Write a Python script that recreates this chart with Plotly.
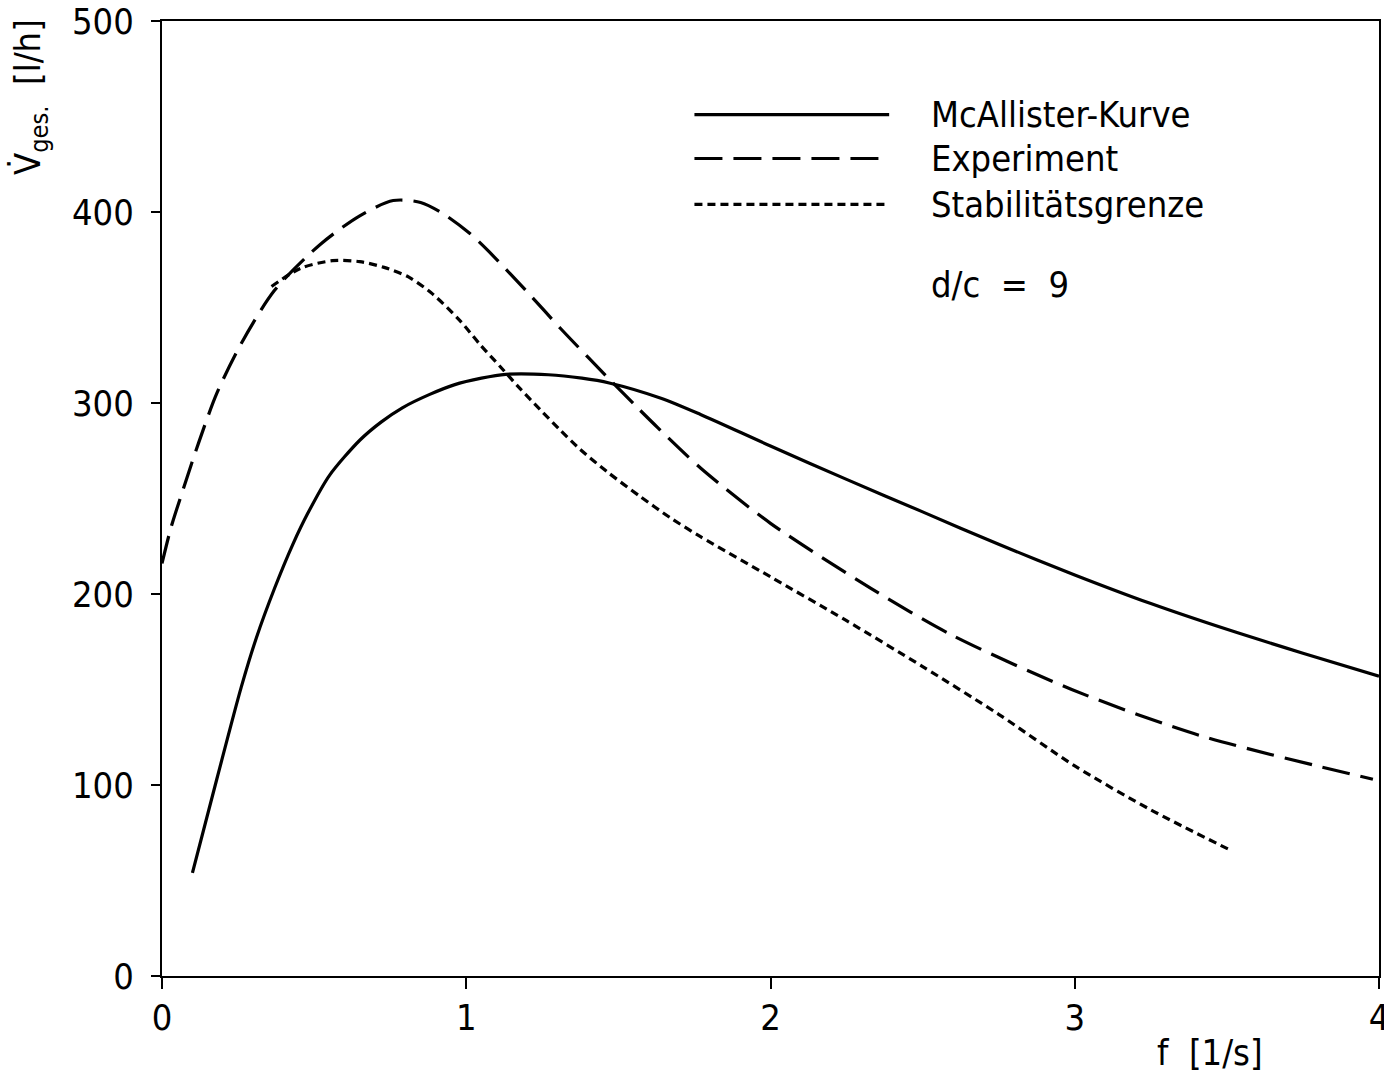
import plotly.graph_objects as go

# --- data ---
mc_x = [0.10, 0.18, 0.26, 0.31, 0.37, 0.43, 0.48, 0.55, 0.65, 0.72, 0.79, 0.88, 0.96, 1.05, 1.13, 1.27, 1.38, 1.47, 1.64, 1.77, 2.00, 2.25, 2.50, 2.75, 3.00, 3.25, 3.50, 3.75, 4.00]
mc_y = [54, 103, 151, 177, 203, 226, 242.5, 262, 280.5, 290, 297.5, 304.5, 309.5, 313, 315, 314.8, 313, 310.5, 302.5, 294, 277.5, 260, 243, 226, 210, 195, 181.5, 169, 157]

ex_x = [0.00, 0.03, 0.07, 0.12, 0.18, 0.26, 0.37, 0.52, 0.65, 0.76, 0.85, 0.92, 1.01, 1.07, 1.21, 1.31, 1.40, 1.47, 1.56, 1.63, 1.77, 2.00, 2.33, 2.59, 2.99, 3.41, 3.98]
ex_y = [216, 235, 255, 279, 305, 331, 359, 383, 398, 406, 405, 399.5, 389, 380, 356.5, 339, 324, 312.5, 298, 287, 266, 237, 203, 179, 150, 126, 103]

st_x = [0.36, 0.455, 0.56, 0.65, 0.73, 0.81, 0.89, 0.98, 1.046, 1.112, 1.177, 1.243, 1.308, 1.374, 1.463, 1.572, 1.67, 1.77, 2.00, 2.25, 2.50, 2.75, 3.00, 3.25, 3.51]
st_y = [361, 370.5, 374.5, 374, 371, 366, 357, 343, 330.5, 319, 307.5, 296.5, 286, 275.8, 264, 251, 240, 230, 209, 186, 162, 137, 110, 87, 66]

series_names = ["McAllister-Kurve", "Experiment", "Stabilitätsgrenze"]
x_ticks = [0, 1, 2, 3, 4]
y_ticks = [0, 100, 200, 300, 400, 500]
note_text = "d/c  =  9"
x_title = "f  [1/s]"
y_title = "V\u0307<sub>ges.</sub>  [l/h]"

FONT = "Liberation Sans Narrow, DejaVu Sans Condensed, Roboto Condensed, Liberation Sans, sans-serif"
dashes = ["solid", "28px,11px", "8px,5px"]

fig = go.Figure()
for xs, ys, name, d in zip([mc_x, ex_x, st_x], [mc_y, ex_y, st_y], series_names, dashes):
    fig.add_trace(go.Scatter(x=xs, y=ys, mode="lines", name=name, showlegend=False,
                             line=dict(color="black", width=3.2, dash=d, shape="spline", smoothing=0.8)))

# legend drawn manually (long line samples as in the reference)
leg_x0, leg_x1 = 1.75, 2.39
leg_y = [451, 428, 404]
for yy, name, d in zip(leg_y, series_names, dashes):
    fig.add_shape(type="line", xref="x", yref="y", x0=leg_x0, x1=leg_x1, y0=yy, y1=yy,
                  line=dict(color="black", width=3.2, dash=d))
    fig.add_annotation(x=2.52, y=yy, xref="x", yref="y", text=name, showarrow=False,
                       xanchor="left", yanchor="middle", font=dict(family=FONT, size=36, color="black"))

fig.add_annotation(x=2.52, y=362, xref="x", yref="y", text=note_text, showarrow=False,
                   xanchor="left", yanchor="middle", font=dict(family=FONT, size=36, color="black"))

L, R, T, B = 162, 1379, 21, 976
fig.add_annotation(x=(1210 - L) / (R - L), y=-(1052 - B) / (B - T), xref="paper", yref="paper",
                   text=x_title, showarrow=False, xanchor="center", yanchor="middle",
                   font=dict(family=FONT, size=36, color="black"))
fig.add_annotation(x=-(L - 30) / (R - L), y=(B - 97) / (B - T), xref="paper", yref="paper",
                   text=y_title, textangle=-90, showarrow=False, xanchor="center", yanchor="middle",
                   font=dict(family=FONT, size=36, color="black"))

fig.update_layout(
    width=1384, height=1073,
    margin=dict(l=L, r=1384 - R, t=T, b=1073 - B, autoexpand=False),
    paper_bgcolor="white", plot_bgcolor="white",
    font=dict(family=FONT, size=36, color="black"),
    xaxis=dict(range=[0, 4], tickvals=x_ticks, ticktext=[str(v) for v in x_ticks],
               showgrid=False, zeroline=False, showline=True, linecolor="black", linewidth=2,
               mirror=True, ticks="outside", ticklen=11, tickwidth=2, tickcolor="black",
               ticklabelstandoff=-2, ticklabeloverflow="allow", automargin=False),
    yaxis=dict(range=[0, 500], tickvals=y_ticks, ticktext=[str(v) for v in y_ticks],
               showgrid=False, zeroline=False, showline=True, linecolor="black", linewidth=2,
               mirror=True, ticks="outside", ticklen=9, tickwidth=2, tickcolor="black",
               ticklabelstandoff=10, ticklabeloverflow="allow", automargin=False),
)

fig.write_html("out.html")
